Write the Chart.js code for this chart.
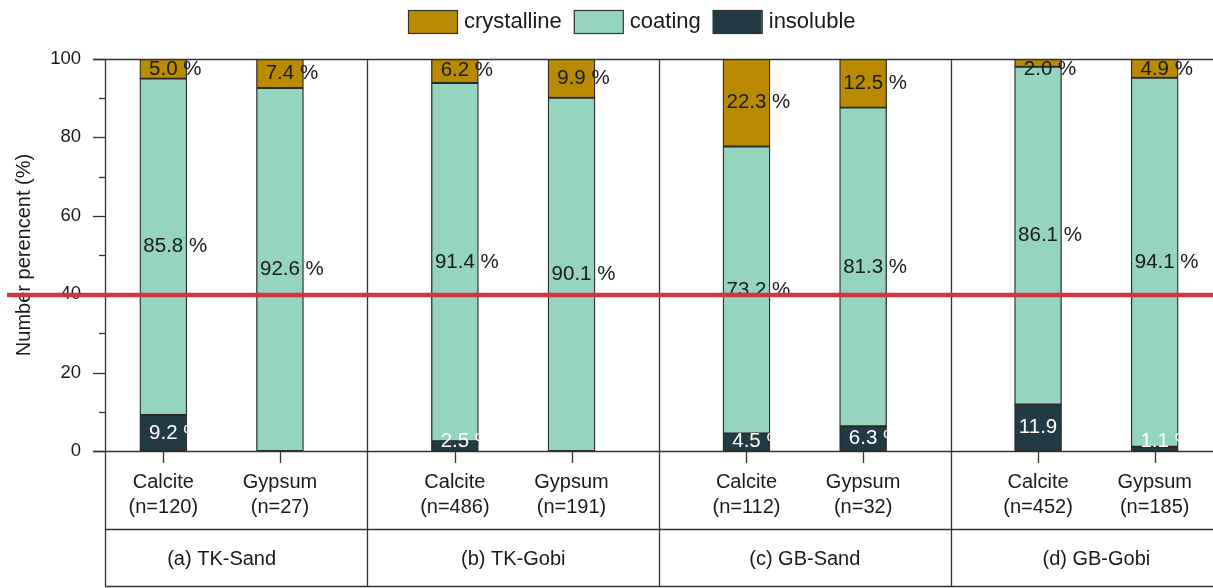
<!DOCTYPE html>
<html>
<head>
<meta charset="utf-8">
<script src="https://cdn.jsdelivr.net/npm/chart.js@4/dist/chart.umd.min.js"></script>
<style>
  html, body { margin: 0; padding: 0; background: #fff; }
  #wrap { width: 1213px; height: 588px; }
</style>
</head>
<body>
<div id="wrap"><canvas id="c" width="1213" height="588"></canvas></div>
<script>
// Mineral categories, sample sizes and sites
const minerals = ['Calcite', 'Gypsum', 'Calcite', 'Gypsum', 'Calcite', 'Gypsum', 'Calcite', 'Gypsum'];
const sampleCounts = ['(n=120)', '(n=27)', '(n=486)', '(n=191)', '(n=112)', '(n=32)', '(n=452)', '(n=185)'];
const sites = ['(a) TK-Sand', '(b) TK-Gobi', '(c) GB-Sand', '(d) GB-Gobi'];
// Position of each bar on the x axis (two bars per site, wider gap between sites)
const barPositions = [0, 1, 2.5, 3.5, 5, 6, 7.5, 8.5];

// Number percentages (%) per particle type
const insoluble   = [9.2, 0, 2.5, 0, 4.5, 6.3, 11.9, 1.1];
const coating     = [85.8, 92.6, 91.4, 90.1, 73.2, 81.3, 86.1, 94.1];
const crystalline = [5.0, 7.4, 6.2, 9.9, 22.3, 12.5, 2.0, 4.9];

const yTickValues = [0, 20, 40, 60, 80, 100];
const referenceLevel = 39.8;

const COLORS = { crystalline: '#BA8A00', coating: '#95D4BE', insoluble: '#223A45' };
const LINE = '#333333';
const FONT = '"Liberation Sans", Arial, sans-serif';

const toPoints = arr => arr.map((v, i) => ({ x: barPositions[i], y: v }));

// Frame, ticks, category table and legend
const framePlugin = {
  id: 'frame',
  afterDraw(chart) {
    const { ctx, chartArea: a, scales: { x, y } } = chart;
    const tableMid = a.bottom + 78, tableBottom = a.bottom + 135;
    ctx.save();
    ctx.strokeStyle = LINE;
    ctx.lineWidth = 1.3;
    const h = (x1, x2, yy) => { ctx.beginPath(); ctx.moveTo(x1, yy); ctx.lineTo(x2, yy); ctx.stroke(); };
    const v = (xx, y1, y2) => { ctx.beginPath(); ctx.moveTo(xx, y1); ctx.lineTo(xx, y2); ctx.stroke(); };

    h(a.left - 12, a.right, Math.round(a.top) + 0.5);
    h(a.left - 12, a.right, Math.round(a.bottom) + 0.5);
    h(a.left, a.right, tableMid + 0.5);
    h(a.left, a.right, tableBottom + 0.5);
    v(Math.round(a.left) + 0.5, a.top, tableBottom);
    const separators = [];
    for (let g = 0; g < sites.length - 1; g++) {
      separators.push((barPositions[2 * g + 1] + barPositions[2 * g + 2]) / 2);
    }
    separators.forEach(p => v(Math.round(x.getPixelForValue(p)) + 0.5, a.top, tableBottom));

    // y ticks: major every 20, minor in between
    for (let t = 0; t <= 100; t += 10) {
      const py = Math.round(y.getPixelForValue(t)) + 0.5;
      h(a.left - (t % 20 === 0 ? 12 : 6), a.left, py);
    }
    // x ticks under each bar
    barPositions.forEach(p => v(Math.round(x.getPixelForValue(p)) + 0.5, a.bottom, a.bottom + 12));

    // category labels
    ctx.fillStyle = '#1a1a1a';
    ctx.textAlign = 'center';
    ctx.textBaseline = 'middle';
    ctx.font = '20px ' + FONT;
    barPositions.forEach((p, i) => {
      const px = x.getPixelForValue(p);
      ctx.fillText(minerals[i], px, a.bottom + 31);
      ctx.fillText(sampleCounts[i], px, a.bottom + 56);
    });
    // site labels, centred under each pair of bars
    sites.forEach((s, g) => {
      const cx = x.getPixelForValue((barPositions[2 * g] + barPositions[2 * g + 1]) / 2);
      ctx.fillText(s, cx, a.bottom + 108);
    });

    // legend
    ctx.font = '22px ' + FONT;
    ctx.textAlign = 'left';
    let lx = 408;
    chart.data.datasets.slice().reverse().forEach(ds => {
      ctx.fillStyle = ds.backgroundColor;
      ctx.fillRect(lx, 10, 49, 23);
      ctx.lineWidth = 1.2;
      ctx.strokeStyle = LINE;
      ctx.strokeRect(lx + 0.5, 10.5, 49, 23);
      ctx.fillStyle = '#1a1a1a';
      ctx.fillText(ds.label, lx + 56, 22);
      lx += 56 + ctx.measureText(ds.label).width + 12;
    });
    ctx.restore();
  }
};

// Value labels inside each stacked segment
const valueLabelPlugin = {
  id: 'valueLabels',
  afterDatasetsDraw(chart) {
    const { ctx, chartArea: a } = chart;
    ctx.save();
    ctx.font = '20.5px ' + FONT;
    ctx.textAlign = 'left';
    ctx.textBaseline = 'middle';
    chart.data.datasets.forEach((ds, di) => {
      const meta = chart.getDatasetMeta(di);
      meta.data.forEach((bar, i) => {
        const val = ds.data[i].y;
        if (!val) return;
        const num = val.toFixed(1);
        const mid = (bar.y + bar.base) / 2;
        const cy = Math.min(Math.max(mid, a.top + 10), a.bottom - 10);
        const w = ctx.measureText(num).width;
        ctx.fillStyle = ds.labelColor;
        ctx.fillText(num + ' %', bar.x - w / 2, cy);
      });
    });
    ctx.restore();
  }
};

// Horizontal reference line across the figure
const referencePlugin = {
  id: 'referenceLine',
  afterDraw(chart) {
    const { ctx, scales: { y } } = chart;
    const py = y.getPixelForValue(referenceLevel);
    ctx.save();
    ctx.strokeStyle = '#D0373D';
    ctx.lineWidth = 4.5;
    ctx.beginPath();
    ctx.moveTo(7, py);
    ctx.lineTo(chart.width, py);
    ctx.stroke();
    ctx.restore();
  }
};

const barStyle = { barThickness: 47, borderWidth: 1.3, borderColor: '#2a2a2a', borderSkipped: false };

new Chart(document.getElementById('c'), {
  type: 'bar',
  data: {
    datasets: [
      { label: 'insoluble', data: toPoints(insoluble), backgroundColor: COLORS.insoluble, labelColor: '#ffffff', ...barStyle },
      { label: 'coating', data: toPoints(coating), backgroundColor: COLORS.coating, labelColor: '#1a1a1a', ...barStyle },
      { label: 'crystalline', data: toPoints(crystalline), backgroundColor: COLORS.crystalline, labelColor: '#1a1a1a', ...barStyle }
    ]
  },
  options: {
    responsive: false,
    animation: false,
    devicePixelRatio: 1,
    layout: { padding: { top: 59, left: 0, right: 0, bottom: 0 } },
    plugins: { legend: { display: false }, tooltip: { enabled: false } },
    scales: {
      x: {
        type: 'linear',
        stacked: true,
        offset: false,
        min: -0.5,
        max: 9,
        grid: { display: false, drawTicks: false, offset: false },
        border: { display: false },
        ticks: { display: false },
        afterFit(scale) { scale.height = 137; }
      },
      y: {
        stacked: true,
        min: 0,
        max: 100,
        grid: { display: false, drawTicks: false },
        border: { display: false },
        afterBuildTicks(scale) { scale.ticks = yTickValues.map(v => ({ value: v })); },
        ticks: { color: '#1a1a1a', font: { family: FONT, size: 18.5 }, padding: 24 },
        title: {
          display: true,
          text: 'Number perencent (%)',
          color: '#1a1a1a',
          font: { family: FONT, size: 20 },
          padding: { top: 12, bottom: 0 }
        },
        afterFit(scale) { scale.width = 105; }
      }
    }
  },
  plugins: [framePlugin, valueLabelPlugin, referencePlugin]
});
</script>
</body>
</html>
